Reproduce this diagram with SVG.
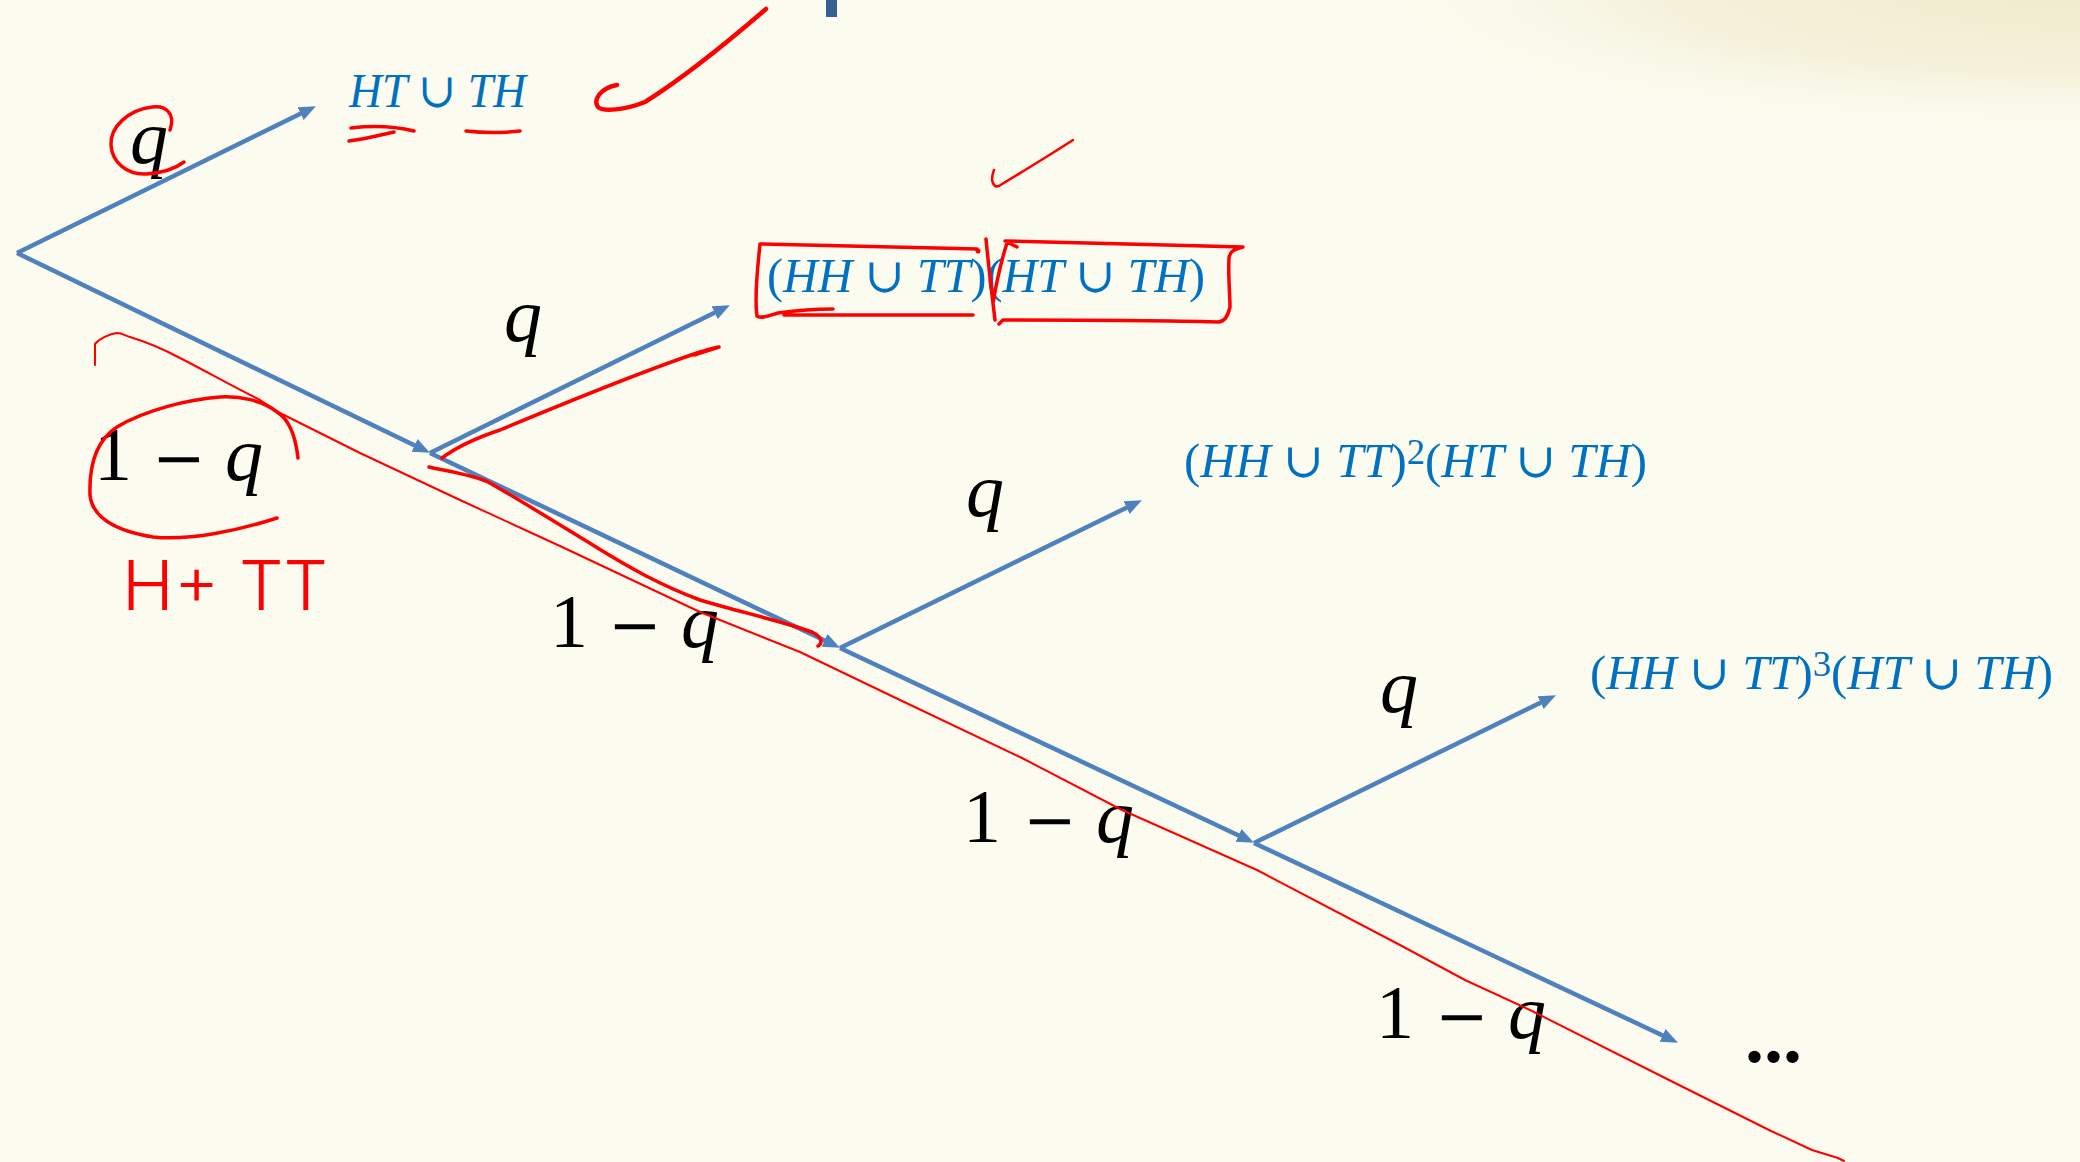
<svg xmlns="http://www.w3.org/2000/svg" width="2080" height="1162" viewBox="0 0 2080 1162">
<defs>
<style>
.arrow{stroke:#4F81BD;stroke-width:4.5;fill:none;marker-end:url(#ah)}
.lbl{font-family:"Liberation Serif","DejaVu Serif",serif;font-size:76px;fill:#000000}
.it{font-style:italic}
.mn{font-family:"DejaVu Serif","Liberation Serif",serif;font-size:64px}
.expr{font-family:"Liberation Serif","DejaVu Serif",serif;font-size:48px;fill:#0070C0;font-style:italic}
.up{font-style:normal}
.sup{font-style:normal;font-size:36px}
.ink{stroke:#FF0000;fill:none;stroke-linecap:round;stroke-linejoin:round}
.k4{stroke-width:4.5}
.k3{stroke-width:3.5}
.k2{stroke-width:2.5}
.k1{stroke-width:2}
.hand{font-family:"Inter","Lato","Liberation Sans",sans-serif;font-weight:300;font-size:68px;fill:#FF0000}
</style>
<marker id="ah" markerUnits="userSpaceOnUse" markerWidth="18" markerHeight="14" refX="6" refY="7" orient="auto">
<path d="M0,0 L17,7 L0,14 z" fill="#4F81BD"/>
</marker>
<radialGradient id="sw" cx="2080" cy="-10" r="760" gradientUnits="userSpaceOnUse" gradientTransform="translate(2080,-10) scale(1,0.2) translate(-2080,10)">
<stop offset="0" stop-color="#F1EBCC"/>
<stop offset="0.55" stop-color="#F5F1DB"/>
<stop offset="1" stop-color="#FBFBEF" stop-opacity="0"/>
</radialGradient>
</defs>
<rect x="0" y="0" width="2080" height="1162" fill="#FBFBEF"/>
<rect x="1260" y="0" width="820" height="220" fill="url(#sw)"/>
<rect x="826" y="0" width="11" height="17" fill="#376092"/>

<g id="connectors">
<line class="arrow" x1="17" y1="253" x2="306" y2="111"/>
<line class="arrow" x1="17" y1="253" x2="420" y2="448"/>
<line class="arrow" x1="430" y1="453" x2="720" y2="310"/>
<line class="arrow" x1="430" y1="453" x2="830" y2="643"/>
<line class="arrow" x1="840" y1="648" x2="1132" y2="505"/>
<line class="arrow" x1="840" y1="648" x2="1244" y2="838"/>
<line class="arrow" x1="1254" y1="843" x2="1546" y2="700"/>
<line class="arrow" x1="1254" y1="843" x2="1668" y2="1038"/>
</g>

<g id="label-q1"><text class="lbl it" x="130" y="163">q</text></g>
<g id="label-q2"><text class="lbl it" x="504" y="341">q</text></g>
<g id="label-q3"><text class="lbl it" x="966" y="516">q</text></g>
<g id="label-q4"><text class="lbl it" x="1380" y="712">q</text></g>

<g id="label-1mq1"><text class="lbl" y="480"><tspan x="94">1</tspan><tspan class="mn" x="152">−</tspan><tspan class="it" x="225">q</tspan></text></g>
<g id="label-1mq2"><text class="lbl" y="647"><tspan x="550">1</tspan><tspan class="mn" x="608">−</tspan><tspan class="it" x="681">q</tspan></text></g>
<g id="label-1mq3"><text class="lbl" y="842"><tspan x="963">1</tspan><tspan class="mn" x="1023">−</tspan><tspan class="it" x="1096">q</tspan></text></g>
<g id="label-1mq4"><text class="lbl" y="1038"><tspan x="1376">1</tspan><tspan class="mn" x="1435">−</tspan><tspan class="it" x="1508">q</tspan></text></g>
<g id="label-dots"><text class="lbl" x="1745" y="1062" textLength="57" lengthAdjust="spacingAndGlyphs" font-weight="bold">...</text></g>

<g id="node-1"><text class="expr" x="349" y="107" textLength="177" lengthAdjust="spacingAndGlyphs">HT <tspan class="up">∪</tspan> TH</text></g>
<g id="node-2"><text class="expr" x="767" y="292" textLength="438" lengthAdjust="spacingAndGlyphs"><tspan class="up">(</tspan>HH <tspan class="up">∪</tspan> TT<tspan class="up">)(</tspan>HT <tspan class="up">∪</tspan> TH<tspan class="up">)</tspan></text></g>
<g id="node-3"><text class="expr" x="1184" y="477" textLength="463" lengthAdjust="spacingAndGlyphs"><tspan class="up">(</tspan>HH <tspan class="up">∪</tspan> TT<tspan class="up">)</tspan><tspan class="sup" dy="-13">2</tspan><tspan class="up" dy="13">(</tspan>HT <tspan class="up">∪</tspan> TH<tspan class="up">)</tspan></text></g>
<g id="node-4"><text class="expr" x="1590" y="689" textLength="463" lengthAdjust="spacingAndGlyphs"><tspan class="up">(</tspan>HH <tspan class="up">∪</tspan> TT<tspan class="up">)</tspan><tspan class="sup" dy="-13">3</tspan><tspan class="up" dy="13">(</tspan>HT <tspan class="up">∪</tspan> TH<tspan class="up">)</tspan></text></g>

<g id="ink">
<path class="ink k4" d="M617,85 C600,88 593,100 598,107 C603,112 625,110 645,102 C680,80 730,40 766,9"/>
<path class="ink k3" d="M351,128 Q385,124 414,131 M349,141 C365,139 380,135 394,132 M466,131 Q493,134 520,131"/>
<path class="ink k3" d="M170,130 C176,113 165,105 152,107 C128,110 110,127 111,145 C112,163 128,175 146,174 C162,173 176,168 184,162"/>
<path class="ink k2" d="M994,170 C990,180 993,188 999,186 C1025,170 1050,155 1073,140"/>
<path class="ink k3" d="M760,244 C820,246 900,247 977,249 M760,244 C758,265 754,295 757,316 C760,319 768,316 778,313 C800,310 820,309 833,309 M784,315 C850,315 920,315 973,315"/>
<circle cx="978" cy="251" r="2.5" fill="#FF0000"/>
<path class="ink k3" d="M986,239 C988,260 992,295 995,320 M1007,243 C1000,265 996,285 993,303 M1005,241 C1080,243 1170,245 1243,247 C1236,249 1230,250 1229,258 C1228,275 1230,295 1230,307 C1228,316 1224,322 1218,322 C1150,320 1060,320 1003,320 L999,324 M1007,242 L1017,247"/>
<path class="ink k3" d="M442,458 C450,452 470,440 500,430 C560,405 640,372 700,352 C710,349 717,347 719,347 M694,355 L719,347"/>
<path class="ink k3" d="M429,467 C440,470 470,474 488,482 C520,500 560,525 596,547 C630,568 660,585 700,600 C740,612 785,622 812,632 C822,637 823,643 818,646"/>
<path class="ink k3" d="M298,458 C296,440 290,420 277,412 C262,400 240,396 220,397 C190,399 145,410 117,427 C97,440 89,465 90,495 C92,515 110,530 153,537 C190,541 240,530 277,518"/>
<path class="ink k1" d="M95,365 L95,344 C100,338 110,334 117,333 C122,333 126,336 130,337 C150,343 165,350 180,358 C200,368 230,385 260,400 L280,413 L360,453 L460,500 L560,546 L700,612 L800,652 L900,700 L1022,758 L1122,810 L1257,870 L1400,945 L1465,980 L1530,1010 L1669,1080 L1769,1130 L1812,1150 L1838,1158 L1844,1161"/>
<text class="hand" x="122" y="610" textLength="206" lengthAdjust="spacingAndGlyphs">H+ TT</text>
</g>
</svg>
